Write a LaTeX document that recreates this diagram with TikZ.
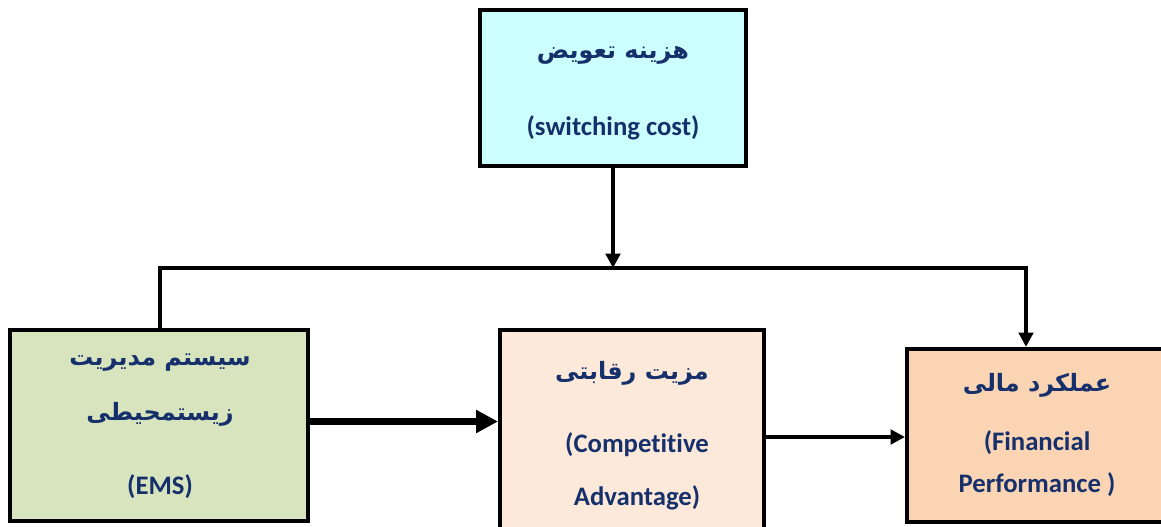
\documentclass[tikz,border=0pt]{standalone}
\usepackage{fontspec}
\setmainfont{Carlito}[Ligatures=NoCommon]
\newfontfamily\arabicfont[Script=Arabic]{DejaVu Sans}
\TeXXeTstate=1
\usetikzlibrary{arrows.meta,positioning}

\definecolor{navy}{HTML}{16306B}
\definecolor{swfill}{HTML}{CCFFFF}
\definecolor{emsfill}{HTML}{D7E4BD}
\definecolor{compfill}{HTML}{FDE9D9}
\definecolor{finfill}{HTML}{FBD4B4}

\tikzset{
  box/.style={draw=black,line width=2.8pt,inner sep=0pt},
  fa/.style={text=navy,font=\arabicfont\bfseries\fontsize{17}{20}\selectfont},
  en/.style={text=navy,font=\bfseries\fontsize{19}{23}\selectfont},
  link/.style={line width=2.6pt},
  thin arrow/.style={link,-{Triangle[length=0.36cm,width=0.36cm]}},
  thick arrow/.style={line width=5pt,-{Triangle[length=0.55cm,width=0.55cm]}}
}

\begin{document}
\begin{tikzpicture}[x=0.025cm,y=-0.025cm]
	\clip (0,0) rectangle (1161,526);
	% boxes
	\node[box,fill=swfill,minimum width=6.65cm,minimum height=3.9cm] (sw) at (613,88) {};
	\node[box,fill=emsfill,minimum width=7.45cm,minimum height=4.78cm] (ems) at (159,425.5) {};
	\node[box,fill=compfill,minimum width=6.6cm,minimum height=5.25cm] (comp) at (632,435) {};
	\node[box,fill=finfill,minimum width=6.7cm,minimum height=4.33cm] (fin) at (1041,435.5) {};
	% texts
	\node[fa] (sw-fa) at (613,55) {\beginR هزینه تعویض\endR};
	\node[en] (sw-en) at (613,128) {(switching cost)};
	\node[fa] (ems-fa1) at (160,363) {\beginR سیستم مدیریت\endR};
	\node[fa] (ems-fa2) at (160,414) {\beginR زیستمحیطی\endR};
	\node[en] (ems-en) at (160,487) {(EMS)};
	\node[fa] (comp-fa) at (632,373) {\beginR مزیت رقابتی\endR};
	\node[en] (comp-en1) at (637,445) {(Competitive};
	\node[en] (comp-en2) at (637,498) {Advantage)};
	\node[fa] (fin-fa) at (1037,385) {\beginR عملکرد مالی\endR};
	\node[en] (fin-en1) at (1037,443) {(Financial};
	\node[en] (fin-en2) at (1037,485) {Performance )};
	% connectors
	\coordinate (junc) at (613,268);
	\coordinate (bar-l) at (160,268);
	\coordinate (bar-r) at (1026,268);
	\draw[thin arrow] (sw.south) -- (junc);
	\draw[thin arrow] (ems.north -| bar-l) -- (bar-l) -- (bar-r) -- (fin.north -| bar-r);
	\draw[thick arrow] (ems.east) ++(0,-4) coordinate (ems-out) -- (comp.west |- ems-out);
	\draw[thin arrow] (comp.east) ++(0,2) coordinate (comp-out) -- (fin.west |- comp-out);
\end{tikzpicture}
\end{document}
